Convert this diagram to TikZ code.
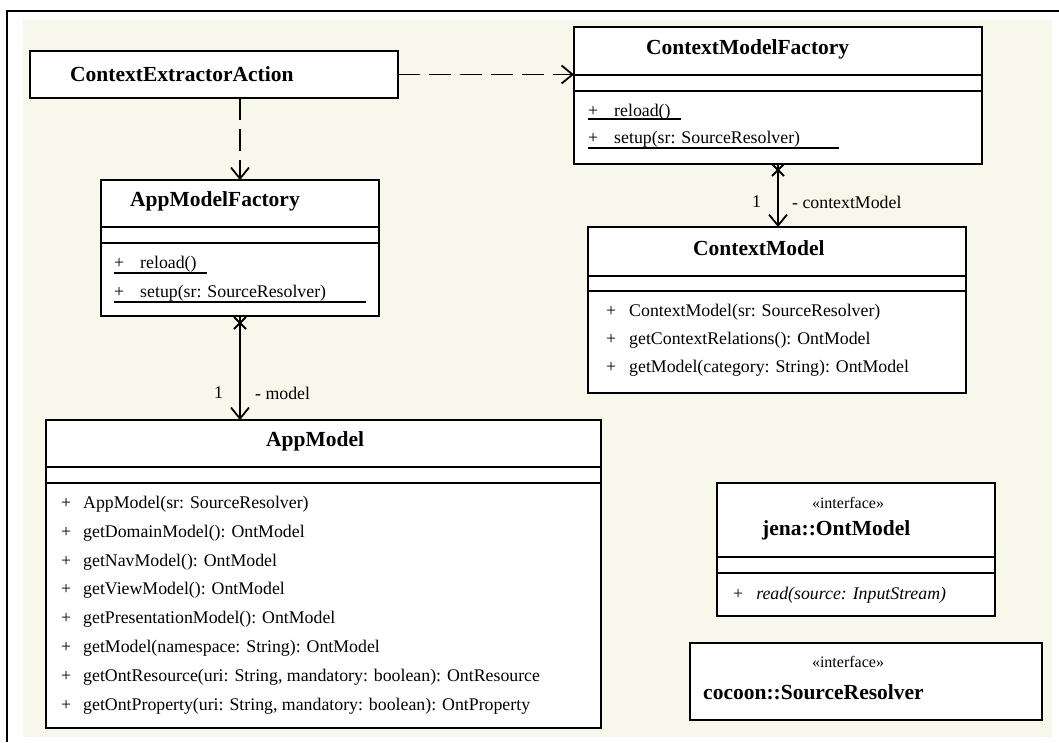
\documentclass[tikz,border=0pt]{standalone}
\usepackage{fontspec}
\setmainfont{Liberation Serif}
\usetikzlibrary{arrows.meta,shadows}
\definecolor{paper}{HTML}{F8F7EC}
\tikzset{
  umlbox/.style={draw, line width=1.8pt, fill=white, inner sep=0pt, outer sep=0pt,
    anchor=north west,
    general shadow={fill=black!55, shadow xshift=1.4pt, shadow yshift=-1.4pt}},
  divider/.style={line width=1.8pt},
  classname/.style={font=\fontsize{21.5}{24}\selectfont\bfseries, inner sep=0pt, anchor=west},
  member/.style={font=\fontsize{17.8}{20}\selectfont, inner sep=0pt, anchor=west,
    text height=12pt, text depth=4pt},
  stereo/.style={font=\fontsize{16}{18}\selectfont, inner sep=0pt},
  uline/.style={line width=1.3pt},
  conn/.style={line width=1.8pt},
  depend/.style={conn, dash pattern=on 22pt off 9pt,
    -{Straight Barb[length=11pt,width=18pt,line width=1.8pt]}},
  assoc/.style={conn, -{Straight Barb[length=11pt,width=18pt,line width=1.8pt]}},
  xmark/.style={line width=1.8pt},
  rolelabel/.style={font=\fontsize{17.8}{20}\selectfont, inner sep=0pt, anchor=west},
}
\begin{document}
\begin{tikzpicture}[x=1pt,y=-1pt]
\useasboundingbox (0,0) rectangle (1059,742);
% sheet and frame
\fill[paper] (23,20) rectangle (1052,737);
\draw[line width=2.6pt] (7,742) -- (7,11) -- (1059,11);

% ContextExtractorAction
\node[umlbox, minimum width=368pt, minimum height=47pt] (cea) at (30,51) {};
\node[classname] (ceaT) at (70,74) {ContextExtractorAction};

% ContextModelFactory
\node[umlbox, minimum width=408pt, minimum height=137pt] (cmf) at (574,27) {};
\node[classname] (cmfT) at (646,49) {ContextModelFactory};
\draw[divider] (cmf.west |- 0,75) -- (cmf.east |- 0,75);
\draw[divider] (cmf.west |- 0,91) -- (cmf.east |- 0,91);
\node[member] (cmf1) at (588,112) {+\hspace{16pt}reload()};
\node[member] (cmf2) at (588,139) {+\hspace{16pt}setup(sr: SourceResolver)};
\draw[uline] (588,119) -- (681,119);
\draw[uline] (588,148) -- (839,148);

% AppModelFactory
\node[umlbox, minimum width=278pt, minimum height=136pt] (amf) at (101,180) {};
\node[classname] (amfT) at (130,201) {AppModelFactory};
\draw[divider] (amf.west |- 0,227) -- (amf.east |- 0,227);
\draw[divider] (amf.west |- 0,243) -- (amf.east |- 0,243);
\node[member] (amf1) at (114,264) {+\hspace{16pt}reload()};
\node[member] (amf2) at (114,293) {+\hspace{16pt}setup(sr: SourceResolver)};
\draw[uline] (114,273) -- (207,273);
\draw[uline] (114,302) -- (366,302);

% ContextModel
\node[umlbox, minimum width=378pt, minimum height=166pt] (cm) at (588,227) {};
\node[classname] (cmT) at (693,248) {ContextModel};
\draw[divider] (cm.west |- 0,276) -- (cm.east |- 0,276);
\draw[divider] (cm.west |- 0,291) -- (cm.east |- 0,291);
\node[member] (cm1) at (606,312) {+\hspace{13pt}ContextModel(sr: SourceResolver)};
\node[member] (cm2) at (606,340) {+\hspace{13pt}getContextRelations(): OntModel};
\node[member] (cm3) at (606,368) {+\hspace{13pt}getModel(category: String): OntModel};

% AppModel
\node[umlbox, minimum width=555pt, minimum height=308pt] (am) at (46,420) {};
\node[classname] (amT) at (266,441) {AppModel};
\draw[divider] (am.west |- 0,467) -- (am.east |- 0,467);
\draw[divider] (am.west |- 0,483) -- (am.east |- 0,483);
\node[member] (am1) at (61,504) {+\hspace{12pt}AppModel(sr: SourceResolver)};
\node[member] (am2) at (61,533) {+\hspace{12pt}getDomainModel(): OntModel};
\node[member] (am3) at (61,562) {+\hspace{12pt}getNavModel(): OntModel};
\node[member] (am4) at (61,590) {+\hspace{12pt}getViewModel(): OntModel};
\node[member] (am5) at (61,619) {+\hspace{12pt}getPresentationModel(): OntModel};
\node[member] (am6) at (61,648) {+\hspace{12pt}getModel(namespace: String): OntModel};
\node[member] (am7) at (61,677) {+\hspace{12pt}getOntResource(uri: String, mandatory: boolean): OntResource};
\node[member] (am8) at (61,706) {+\hspace{12pt}getOntProperty(uri: String, mandatory: boolean): OntProperty};

% jena::OntModel
\node[umlbox, minimum width=278pt, minimum height=133pt] (om) at (717,483) {};
\node[stereo] (omS) at (848,503) {«interface»};
\node[classname] (omT) at (762,530) {jena::OntModel};
\draw[divider] (om.west |- 0,557) -- (om.east |- 0,557);
\draw[divider] (om.west |- 0,573) -- (om.east |- 0,573);
\node[member] (om1) at (733,595) {+\hspace{13pt}\textit{read(source: InputStream)}};

% cocoon::SourceResolver
\node[umlbox, minimum width=352pt, minimum height=77pt] (sr) at (690,643) {};
\node[stereo] (srS) at (848,662) {«interface»};
\node[classname] (srT) at (703,692) {cocoon::SourceResolver};

% dependencies
\draw[depend] (cea.east) -- (cmf.west |- cea.east);
\draw[depend] (amf.north |- cea.south) -- (amf.north);

% associations
\draw[assoc] (cmf.south) -- (cmf.south |- cm.north);
\draw[xmark] ([shift={(-6,0)}]cmf.south) -- ++(12,12);
\draw[xmark] ([shift={(6,0)}]cmf.south) -- ++(-12,12);
\node[rolelabel] (cmM) at (752,202) {1};
\node[rolelabel] (cmR) at (792,202) {- contextModel};

\draw[assoc] (amf.south) -- (amf.south |- am.north);
\draw[xmark] ([shift={(-6,1)}]amf.south) -- ++(12,12);
\draw[xmark] ([shift={(6,1)}]amf.south) -- ++(-12,12);
\node[rolelabel] (amM) at (214,393) {1};
\node[rolelabel] (amR) at (255,393) {- model};
\end{tikzpicture}
\end{document}
